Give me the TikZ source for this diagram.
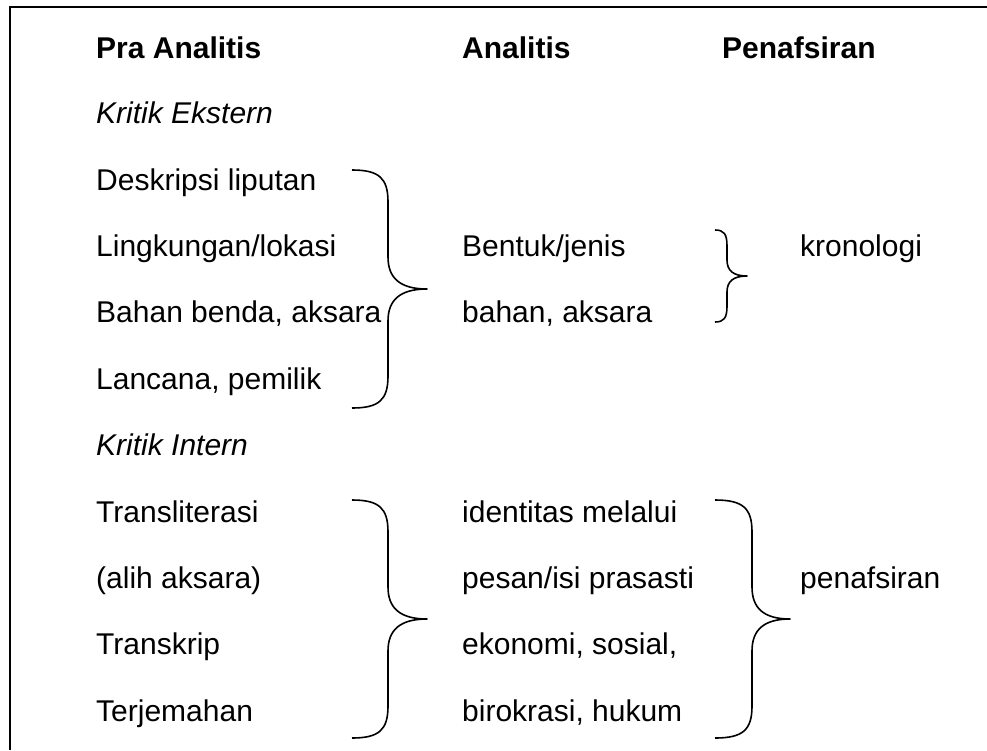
\documentclass[tikz,border=0pt]{standalone}
\usepackage{fontspec}
\setmainfont{Liberation Sans}
\usetikzlibrary{positioning, calc}

\tikzset{
  teks/.style={anchor=base west, inner sep=0pt, font=\fontsize{30}{36}\selectfont},
  judul/.style={teks, font=\fontsize{30}{36}\selectfont\bfseries},
  miring/.style={teks, font=\fontsize{30}{36}\selectfont\itshape},
  kurva/.style={line width=1.6pt, line join=round}
}
% kurung kurawal: xkiri, xtengah, xujung, yatas, ybawah, jari-jari
\newcommand{\kurawal}[6]{%
  \draw[kurva] (#1,#4) .. controls ({#1+0.75*(#2-#1)},#4) and (#2,{#4+0.25*#6}) .. (#2,{#4+#6})
    -- (#2,{(#4+#5)/2-#6}) .. controls (#2,{(#4+#5)/2-0.35*#6}) and ({#2+0.3*(#3-#2)},{(#4+#5)/2}) .. (#3,{(#4+#5)/2})
    .. controls ({#2+0.3*(#3-#2)},{(#4+#5)/2}) and (#2,{(#4+#5)/2+0.35*#6}) .. (#2,{(#4+#5)/2+#6})
    -- (#2,{#5-#6}) .. controls (#2,{#5-0.25*#6}) and ({#1+0.75*(#2-#1)},#5) .. (#1,#5);
}

\begin{document}
\begin{tikzpicture}[x=1pt,y=-1pt]
\useasboundingbox (0,0) rectangle (987,750);
\draw[line width=2pt] (10,750) -- (10,7) -- (987,7);
% judul kolom
\node[judul] (pra) at (96,58) {Pra Analitis};
\node[judul] (ana) at (462,58) {Analitis};
\node[judul] (taf) at (722,58) {Penafsiran};
% kritik ekstern
\node[miring] (ekst) at (96,123) {Kritik Ekstern};
\node[teks] (desk) at (96,190) {Deskripsi liputan};
\node[teks] (ling) at (96,256) {Lingkungan/lokasi};
\node[teks] (bahan) at (96,322) {Bahan benda, aksara};
\node[teks] (lanc) at (96,389) {Lancana, pemilik};
\node[teks] (bentuk) at (462,256) {Bentuk/jenis};
\node[teks] (bhn) at (462,322) {bahan, aksara};
\node[teks] (kron) at (800,256) {kronologi};
\kurawal{352}{388}{427}{170}{408}{32}
\kurawal{715}{727}{747}{230}{322}{16}
% kritik intern
\node[miring] (intr) at (96,455) {Kritik Intern};
\node[teks] (trans) at (96,522) {Transliterasi};
\node[teks] (alih) at (96,588) {(alih aksara)};
\node[teks] (tskrip) at (96,654) {Transkrip};
\node[teks] (terj) at (96,721) {Terjemahan};
\node[teks] (ident) at (462,522) {identitas melalui};
\node[teks] (pesan) at (462,588) {pesan/isi prasasti};
\node[teks] (eko) at (462,654) {ekonomi, sosial,};
\node[teks] (biro) at (462,721) {birokrasi, hukum};
\node[teks] (tafsir) at (800,588) {penafsiran};
\kurawal{352}{388}{427}{500}{738}{32}
\kurawal{715}{752}{790}{500}{738}{32}
\end{tikzpicture}
\end{document}
